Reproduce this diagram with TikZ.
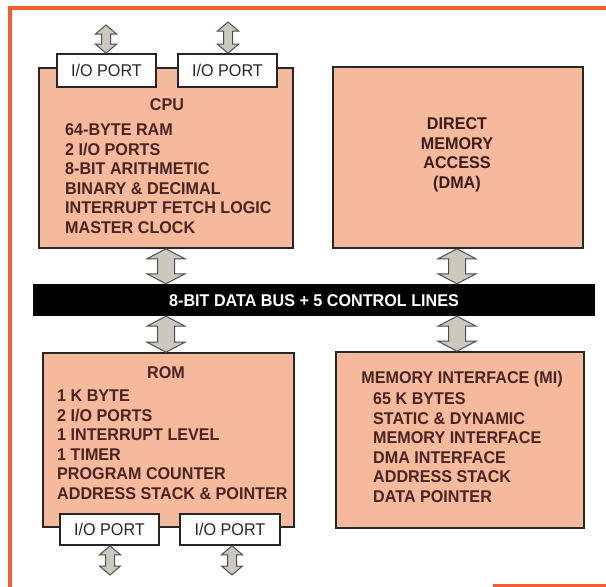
\documentclass[tikz,border=0pt]{standalone}
\usepackage{fontspec}
\setmainfont{Liberation Sans}[FakeStretch=0.95]
\usetikzlibrary{calc}
\definecolor{salmon}{HTML}{F4BA9B}
\definecolor{frameorange}{HTML}{F2602C}
\definecolor{maroon}{HTML}{4A2424}
\definecolor{arrowfill}{HTML}{CBC8BE}
\definecolor{arrowline}{HTML}{4E4E4E}
\tikzset{
  x=1pt, y=-1pt,
  unit/.style={draw=black!85, line width=1.6pt, fill=salmon, rectangle, inner sep=0pt},
  port/.style={draw=black!85, line width=1.6pt, fill=white, rectangle, inner sep=0pt,
    minimum height=32pt, font=\fontsize{17}{19.5}\selectfont, text=black!85},
  title/.style={font=\bfseries\fontsize{17}{19.5}\selectfont, text=maroon, inner sep=0pt, anchor=base},
  listing/.style={font=\bfseries\fontsize{17}{19.5}\selectfont, text=maroon, inner sep=0pt, align=left, anchor=north west},
  centred/.style={font=\bfseries\fontsize{17}{19.5}\selectfont, text=maroon!80!black, inner sep=0pt, align=center, anchor=north},
  fatarrow/.style={fill=arrowfill, draw=arrowline, line width=1pt, line join=miter},
}
% #1 start point (x taken from it), #2 end point (y), #3 head half width, #4 shaft half width, #5 head length
\newcommand\fatdbl[5]{%
  \draw[fatarrow] let \p1=(#1), \p2=(#2) in
    (\x1,\y1) -- (\x1+#3,\y1-#5) -- (\x1+#4,\y1-#5) -- (\x1+#4,\y2+#5) -- (\x1+#3,\y2+#5)
    -- (\x1,\y2) -- (\x1-#3,\y2+#5) -- (\x1-#4,\y2+#5) -- (\x1-#4,\y1-#5) -- (\x1-#3,\y1-#5) -- cycle;}
\begin{document}
\begin{tikzpicture}
\useasboundingbox (0,0) rectangle (606,587);
\fill[white] (0,0) rectangle (606,587);
% page frame (cropped)
\draw[frameorange, line width=3.5pt] (10,587) -- (10,8) -- (606,8);
\draw[frameorange, line width=3pt] (493,585) -- (606,585);

% units
\node[unit, minimum width=254pt, minimum height=180pt] (cpu) at (166,158) {};
\node[unit, minimum width=250pt, minimum height=181pt] (dma) at (458,157.5) {};
\node[unit, minimum width=251pt, minimum height=174pt] (rom) at (168.5,440) {};
\node[unit, minimum width=248pt, minimum height=176pt] (mi) at (460,440) {};

% bus
\node[fill=black, minimum width=562pt, minimum height=32pt, inner sep=0pt] (bus) at (314,300) {};
\node[font=\bfseries\fontsize{17}{19.5}\selectfont, text=white, inner sep=0pt, anchor=base]
  (buslabel) at (314,306) {8-BIT DATA BUS + 5 CONTROL LINES};

% I/O ports
\node[port, minimum width=99pt, minimum height=33pt] (io1) at (106.5,70.5) {I/O PORT};
\node[port, minimum width=99pt, minimum height=33pt] (io2) at (227.5,70.5) {I/O PORT};
\node[port, minimum width=99pt, minimum height=31pt] (io3) at (109.5,529.5) {I/O PORT};
\node[port, minimum width=100pt, minimum height=31pt] (io4) at (230,529.5) {I/O PORT};

% texts
\node[title] (cputitle) at (167,110) {CPU};
\node[listing] (cpulist) at (65,123.8) {64-BYTE RAM\\2 I/O PORTS\\8-BIT ARITHMETIC\\BINARY \& DECIMAL\\INTERRUPT FETCH LOGIC\\MASTER CLOCK};
\node[centred] (dmatext) at (457,117.8) {DIRECT\\MEMORY\\ACCESS\\(DMA)};
\node[title] (romtitle) at (166,378) {ROM};
\node[listing] (romlist) at (57,389.8) {1 K BYTE\\2 I/O PORTS\\1 INTERRUPT LEVEL\\1 TIMER\\PROGRAM COUNTER\\ADDRESS STACK \& POINTER};
\node[title] (mititle) at (462,383) {MEMORY INTERFACE (MI)};
\node[listing] (milist) at (373,392.8) {65 K BYTES\\STATIC \& DYNAMIC\\MEMORY INTERFACE\\DMA INTERFACE\\ADDRESS STACK\\DATA POINTER};

% free ends of port connectors
\coordinate (e1) at (106,25);
\coordinate (e2) at (228,22);
\coordinate (e3) at (110,575);
\coordinate (e4) at (232,575);

% connectors
\fatdbl{e1}{io1.north}{10.5}{4.5}{9}
\fatdbl{e2}{io2.north}{10.5}{4.5}{9}
\fatdbl{io3.south -| e3}{e3}{10.5}{4.5}{9}
\fatdbl{io4.south -| e4}{e4}{10.5}{4.5}{9}
\fatdbl{cpu.south}{bus.north}{19}{8.5}{10}
\fatdbl{bus.south -| cpu.south}{rom.north}{19}{8.5}{10}
\fatdbl{dma.south -| 457,0}{bus.north}{19}{8.5}{10}
\fatdbl{bus.south -| 457,0}{mi.north}{19}{8.5}{10}
\end{tikzpicture}
\end{document}
